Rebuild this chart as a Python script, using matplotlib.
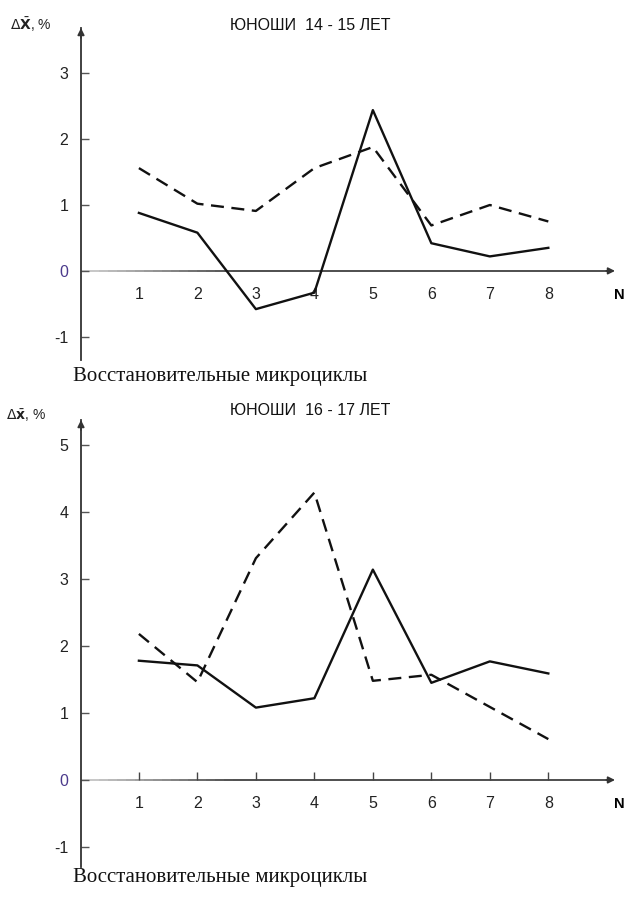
import numpy as np
import matplotlib.pyplot as plt
from matplotlib.collections import LineCollection

plt.rcParams['font.family'] = ['Liberation Sans', 'DejaVu Sans']

# microcycle numbers and Δx̄ values (%)
micro = [1, 2, 3, 4, 5, 6, 7, 8]
top_solid = [0.88, 0.58, -0.58, -0.33, 2.44, 0.42, 0.22, 0.35]
top_dashed = [1.56, 1.02, 0.91, 1.56, 1.88, 0.69, 1.00, 0.75]
bot_solid = [1.78, 1.71, 1.08, 1.22, 3.14, 1.45, 1.77, 1.59]
bot_dashed = [2.18, 1.46, 3.31, 4.29, 1.48, 1.57, 1.09, 0.61]
top_yticks = [-1, 0, 1, 2, 3]
bot_yticks = [-1, 0, 1, 2, 3, 4, 5]
titles = ['ЮНОШИ  14 - 15 ЛЕТ', 'ЮНОШИ  16 - 17 ЛЕТ']
ylabels = [r'$\Delta\bar{\mathbf{X}}$, %', r'$\Delta\bar{\mathbf{x}}$, %']
caption = 'Восстановительные микроциклы'

W, H = 632, 897
fig = plt.figure(figsize=(W / 100, H / 100), dpi=100)


def px_axes(l, t, r, b):
    return fig.add_axes([l / W, 1 - b / H, (r - l) / W, (b - t) / H])


def draw_panel(ax, solid, dashed, yticks, ylim, xtick_len):
    xlim = (0.01, 9.14)
    ax.set_xlim(xlim)
    ax.set_ylim(ylim)
    ax.plot(micro, solid, color='#111111', lw=1.7)
    ax.plot(micro, dashed, color='#111111', lw=1.7, dashes=(5.5, 3.2))

    for s in ['top', 'right']:
        ax.spines[s].set_visible(False)
    ax.spines['left'].set_color('#333333')
    ax.spines['left'].set_linewidth(1.3)
    ax.spines['bottom'].set_position(('data', 0))
    ax.spines['bottom'].set_visible(False)

    # x axis: light grey near the origin, darker to the right
    xs = np.linspace(xlim[0], xlim[1] - 0.1, 60)
    shade = np.clip((xs - xlim[0]) / 2.5, 0, 1)
    cols = [(0.8 - 0.55 * c,) * 3 for c in shade[:-1]]
    segs = [[(xs[i], 0), (xs[i + 1], 0)] for i in range(len(xs) - 1)]
    ax.add_collection(LineCollection(segs, colors=cols, linewidths=1.3, zorder=1))
    arrow = dict(arrowstyle='-|>', color='#333333', lw=1.2,
                 mutation_scale=10, shrinkA=0, shrinkB=0)
    ax.annotate('', xy=(xlim[1], 0), xytext=(xlim[1] - 0.15, 0),
                arrowprops=arrow, annotation_clip=False)
    ax.annotate('', xy=(xlim[0], ylim[1]), xytext=(xlim[0], ylim[1] - 0.15),
                arrowprops=arrow, annotation_clip=False)
    ax.annotate('N', xy=(9.22, 0), xytext=(0, -12), textcoords='offset points',
                fontsize=10.5, fontweight='bold', ha='center', va='top',
                annotation_clip=False)

    ax.set_yticks(yticks)
    ax.set_yticklabels([str(v) for v in yticks])
    ax.tick_params(axis='y', direction='in', length=6, width=1,
                   color='#555555', pad=9, labelsize=11.5, labelcolor='#222222')
    for lab in ax.get_yticklabels():
        if lab.get_text() == '0':
            lab.set_color('#4b3a8c')

    ax.set_xticks(micro)
    ax.set_xticklabels([str(v) for v in micro])
    ax.tick_params(axis='x', direction='in', length=xtick_len, width=1,
                   color='#444444', pad=11.5, labelsize=11.5, labelcolor='#222222')


ax1 = px_axes(81, 28, 615, 360)
draw_panel(ax1, top_solid, top_dashed, top_yticks, (-1.352, 3.686), 0)

ax2 = px_axes(81, 420, 615, 867)
draw_panel(ax2, bot_solid, bot_dashed, bot_yticks, (-1.299, 5.373), 6)

for y, t in zip([25, 410], titles):
    fig.text(310 / W, 1 - y / H, t, ha='center', va='center', fontsize=11.5,
             color='#111111')
for (x, y), t in zip([(10, 25), (6, 416)], ylabels):
    fig.text(x / W, 1 - y / H, t, ha='left', va='center', fontsize=10,
             color='#222222')
for y in [377, 877]:
    fig.text(73 / W, 1 - y / H, caption, ha='left', va='center', fontsize=15,
             family='Liberation Serif', color='#111111')

fig.savefig('out.png', dpi=100)
